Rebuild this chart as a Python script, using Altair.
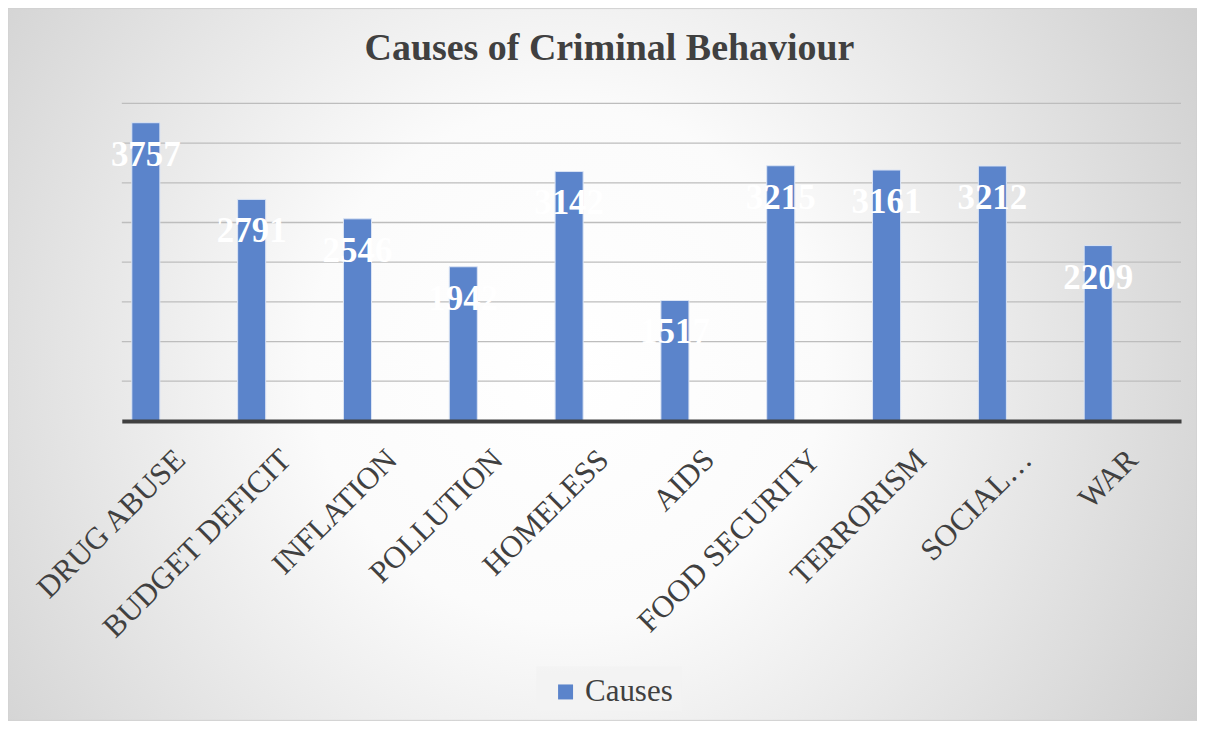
import altair as alt
import pandas as pd

categories = ["DRUG ABUSE", "BUDGET DEFICIT", "INFLATION", "POLLUTION", "HOMELESS",
              "AIDS", "FOOD SECURITY", "TERRORISM", "SOCIAL…", "WAR"]
values = [3757, 2791, 2546, 1942, 3142, 1517, 3215, 3161, 3212, 2209]
series = ["Causes"] * len(categories)
grid_values = [500, 1000, 1500, 2000, 2500, 3000, 3500, 4000]

df = pd.DataFrame({"cause": categories, "value": values, "series": series})
grid_df = pd.DataFrame({"g": grid_values})

W, H = 1061, 318
PL, PT, PR, PB = 114, 95, 16, 300

bg = alt.Chart(alt.Data(values=[{"a": 1}])).mark_rect(
    fill=alt.Gradient(
        gradient="radial",
        stops=[alt.GradientStop(color="#ffffff", offset=0),
               alt.GradientStop(color="#fbfbfb", offset=0.3),
               alt.GradientStop(color="#c3c3c3", offset=1)],
        x1=0.47, y1=0.5, r1=0, x2=0.47, y2=0.5, r2=0.72),
    stroke="#d0d0d0", strokeWidth=1,
).encode(x=alt.value(-PL), x2=alt.value(W + PR),
         y=alt.value(-PT), y2=alt.value(H + PB))

legend_box = alt.Chart(alt.Data(values=[{"a": 1}])).mark_rect(
    fill="#f3f3f3", opacity=0.8
).encode(x=alt.value(537 - 122), x2=alt.value(683 - 122),
         y=alt.value(667 - 103), y2=alt.value(712 - 103))

yscale = alt.Scale(domain=[0, 4000])

grid = alt.Chart(grid_df).mark_rule(color="#bdbdbd", strokeWidth=1.3).encode(
    y=alt.Y("g:Q", scale=yscale, axis=None),
    x=alt.value(0), x2=alt.value(W),
)

bars = alt.Chart(df).mark_bar(
    color="#5B84CB", stroke="#dbe4f4", strokeWidth=1
).encode(
    x=alt.X("cause:N", sort=categories,
            scale=alt.Scale(paddingInner=0.735, paddingOuter=0.3725, align=0.127),
            axis=alt.Axis(title=None, labelAngle=-45, labelAlign="right",
                          labelBaseline="middle", labelFont="Liberation Serif",
                          labelFontSize=31, labelColor="#404040", labelPadding=34,
                          labelOffset=35,
                          ticks=False, domainColor="#404040", domainWidth=4,
                          labelLimit=400, zindex=1)),
    y=alt.Y("value:Q", scale=yscale, axis=None),
    color=alt.Color("series:N", scale=alt.Scale(range=["#5B84CB"]),
                    legend=alt.Legend(title=None, orient="none",
                                      legendX=551 - 122, legendY=677 - 103,
                                      symbolType="square", symbolSize=225,
                                      labelFont="Liberation Serif", labelFontSize=31,
                                      labelColor="#404040", symbolStrokeWidth=0)),
)

labels = alt.Chart(df).mark_text(
    color="white", font="Liberation Serif", fontWeight="bold", fontSize=35,
    dy=32, baseline="middle"
).encode(
    x=alt.X("cause:N", sort=categories),
    y=alt.Y("value:Q", scale=yscale),
    text=alt.Text("value:Q", format="d"),
)

chart = alt.layer(bg, legend_box, grid, bars, labels).properties(
    width=W, height=H,
    padding={"left": PL, "top": PT, "right": PR, "bottom": PB},
    autosize="none",
    title=alt.TitleParams("Causes of Criminal Behaviour", font="Liberation Serif",
                          fontSize=38, fontWeight="bold", color="#404040",
                          anchor="middle", dx=-42, offset=-60),
).configure_view(stroke=None).configure(background="white")

chart.save("out.html", embed_options={"renderer": "svg", "actions": False})
